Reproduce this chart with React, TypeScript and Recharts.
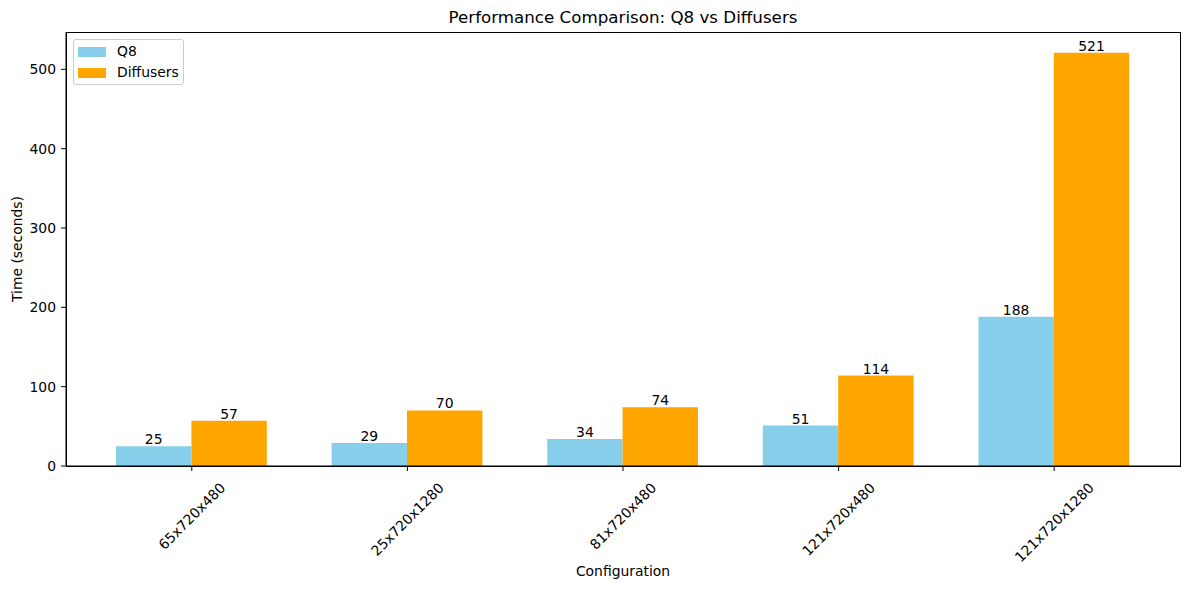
import React from "react";
import { BarChart, Bar, XAxis, YAxis, LabelList } from "recharts";

const configurations = ["65x720x480", "25x720x1280", "81x720x480", "121x720x480", "121x720x1280"];
const q8Times = [25, 29, 34, 51, 188];
const diffusersTimes = [57, 70, 74, 114, 521];
const yTicks = [0, 100, 200, 300, 400, 500];
const seriesNames = ["Q8", "Diffusers"];
const seriesColors = ["#87CEEB", "#FFA500"];

const data = configurations.map((name, i) => ({ name, q8: q8Times[i], diffusers: diffusersTimes[i] }));

const FONT = "'DejaVu Sans', sans-serif";
const FS = 13.9;

const PLOT = { left: 66, top: 32, right: 1180, bottom: 466 };

const RotatedTick = (props: any) => {
  const { x, y, payload } = props;
  const label = String(payload.value);
  let w = 0;
  for (const ch of label) w += ch === "x" ? 8.23 : 8.84;
  const h = (w + 12) * 0.7071;
  const cy = y + 8 + h / 2;
  return (
    <g>
      <text
        x={x}
        y={cy}
        textAnchor="middle"
        dominantBaseline="central"
        transform={`rotate(-45, ${x}, ${cy})`}
        fontFamily={FONT}
        fontSize={FS}
        fill="#000"
      >
        {label}
      </text>
    </g>
  );
};

const LegendBox = () => (
  <div
    style={{
      position: "absolute",
      left: 73,
      top: 39,
      border: "1px solid #cccccc",
      borderRadius: 3,
      background: "rgba(255,255,255,0.8)",
      width: 111,
      height: 46,
      boxSizing: "border-box",
      fontFamily: FONT,
      fontSize: FS,
      color: "#000",
    }}
  >
    {seriesNames.map((n, i) => (
      <React.Fragment key={n}>
        <div style={{ position: "absolute", left: 4, top: 7 + i * 21, width: 28, height: 10, background: seriesColors[i] }} />
        <div style={{ position: "absolute", left: 43, top: 3 + i * 21, lineHeight: "17px", whiteSpace: "nowrap" }}>{n}</div>
      </React.Fragment>
    ))}
  </div>
);

export default function App() {
  return (
    <div style={{ position: "absolute", left: 0, top: 0, width: 1189, height: 590, background: "#fff" }}>
      <div
        style={{
          position: "absolute",
          left: 66,
          width: 1114,
          top: 7,
          textAlign: "center",
          fontFamily: FONT,
          fontSize: 16.7,
          lineHeight: "20px",
          color: "#000",
        }}
      >
        Performance Comparison: Q8 vs Diffusers
      </div>
      <div
        style={{
          position: "absolute",
          left: 66,
          width: 1114,
          top: 563,
          textAlign: "center",
          fontFamily: FONT,
          fontSize: FS,
          lineHeight: "17px",
          color: "#000",
        }}
      >
        Configuration
      </div>
      <BarChart
        width={1189}
        height={590}
        data={data}
        margin={{ top: 32, right: 9, bottom: 0, left: 0 }}
        barGap={0}
        barSize={75.4}
      >
        <XAxis
          dataKey="name"
          padding={{ left: 18, right: 18 }}
          tick={<RotatedTick />}
          tickLine={{ stroke: "#000" }}
          axisLine={{ stroke: "#000" }}
          tickSize={5}
          interval={0}
          height={124}
        />
        <YAxis
          domain={[0, 547.05]}
          ticks={yTicks}
          width={66}
          tickSize={5}
          tickMargin={5}
          tickLine={{ stroke: "#000" }}
          axisLine={{ stroke: "#000" }}
          tick={{ fill: "#000", fontFamily: FONT, fontSize: FS }}
          label={{
            content: (p: any) => {
              const vb = p.viewBox || { y: 32, height: 434 };
              const cy = vb.y + vb.height / 2;
              return (
                <text
                  x={17}
                  y={cy}
                  textAnchor="middle"
                  dominantBaseline="central"
                  transform={`rotate(-90, 17, ${cy})`}
                  fontFamily={FONT}
                  fontSize={FS}
                  fill="#000"
                >
                  Time (seconds)
                </text>
              );
            },
          }}
        />
        <Bar dataKey="q8" name={seriesNames[0]} fill={seriesColors[0]} isAnimationActive={false}>
          <LabelList dataKey="q8" position="top" offset={2} fill="#000" fontFamily={FONT} fontSize={FS} />
        </Bar>
        <Bar dataKey="diffusers" name={seriesNames[1]} fill={seriesColors[1]} isAnimationActive={false}>
          <LabelList dataKey="diffusers" position="top" offset={2} fill="#000" fontFamily={FONT} fontSize={FS} />
        </Bar>
      </BarChart>
      <div
        style={{
          position: "absolute",
          left: PLOT.left - 0.5,
          top: PLOT.top - 0.5,
          width: PLOT.right - PLOT.left + 1,
          height: PLOT.bottom - PLOT.top + 1,
          border: "1px solid #000",
          boxSizing: "border-box",
          pointerEvents: "none",
        }}
      />
      <LegendBox />
    </div>
  );
}
